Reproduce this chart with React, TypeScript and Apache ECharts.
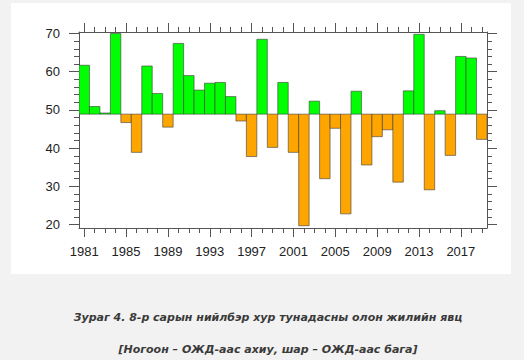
import React, { useEffect, useRef } from 'react';
import * as echarts from 'echarts';

// ---- data ----
const years = [
  1981, 1982, 1983, 1984, 1985, 1986, 1987, 1988, 1989, 1990,
  1991, 1992, 1993, 1994, 1995, 1996, 1997, 1998, 1999, 2000,
  2001, 2002, 2003, 2004, 2005, 2006, 2007, 2008, 2009, 2010,
  2011, 2012, 2013, 2014, 2015, 2016, 2017, 2018, 2019,
];
const rainfall = [
  61.7, 50.9, 49.2, 70.0, 46.7, 38.9, 61.5, 54.3, 45.5, 67.4,
  59.0, 55.2, 57.0, 57.2, 53.5, 47.1, 37.8, 68.5, 40.2, 57.2,
  38.9, 19.7, 52.3, 32.0, 45.2, 22.8, 54.9, 35.6, 43.0, 44.8,
  31.1, 55.0, 69.8, 29.1, 49.8, 38.1, 64.0, 63.6, 42.3,
];
const normal = 48.9; // long-term mean (ОЖД), bar baseline
const xTickLabels = [1981, 1985, 1989, 1993, 1997, 2001, 2005, 2009, 2013, 2017];
const yTickLabels = [20, 30, 40, 50, 60, 70];
const yMinorTicks = [22, 24, 26, 28, 32, 34, 36, 38, 42, 44, 46, 48, 52, 54, 56, 58, 62, 64, 66, 68];
const captionLine1 = 'Зураг 4. 8-р сарын нийлбэр хур тунадасны олон жилийн явц';
const captionLine2 = '[Ногоон – ОЖД-аас ахиу, шар – ОЖД-аас бага]';

const GREEN = '#00ff00';
const ORANGE = '#ffa500';
const AXIS = '#555555';
const X_MIN = 1980.5;
const X_MAX = 2019.5;
const Y_MIN = 19.1;
const Y_MAX = 70.4;

export default function App() {
  const ref = useRef<HTMLDivElement>(null);

  useEffect(() => {
    if (!ref.current) return;
    const chart = echarts.init(ref.current, null, { renderer: 'svg' });

    const xBase = (position: 'top' | 'bottom', major: boolean, labels: boolean) => ({
      type: 'value',
      position,
      min: X_MIN,
      max: X_MAX,
      axisLine: { show: major, lineStyle: { color: AXIS, width: 1 } },
      axisTick: {
        show: true,
        inside: false,
        length: major ? 9 : 5,
        customValues: major ? xTickLabels : years,
        lineStyle: { color: AXIS, width: 1 },
      },
      axisLabel: {
        show: labels,
        customValues: xTickLabels,
        margin: 17,
        color: '#222',
        fontFamily: 'Liberation Sans',
        fontSize: 13,
        formatter: (v: number) => String(v),
      },
      splitLine: { show: false },
    });

    const yBase = (position: 'left' | 'right', major: boolean, labels: boolean) => ({
      type: 'value',
      position,
      min: Y_MIN,
      max: Y_MAX,
      axisLine: { show: major, lineStyle: { color: AXIS, width: 1 } },
      axisTick: {
        show: true,
        inside: false,
        length: major ? 10 : 5,
        customValues: major ? yTickLabels : yMinorTicks,
        lineStyle: { color: AXIS, width: 1 },
      },
      axisLabel: {
        show: labels,
        customValues: yTickLabels,
        margin: 19,
        color: '#222',
        fontFamily: 'Liberation Sans',
        fontSize: 13,
      },
      splitLine: { show: false },
    });

    chart.setOption({
      animation: false,
      backgroundColor: '#f2f2f2',
      grid: { left: 79, right: 37, top: 32, bottom: 132, containLabel: false },
      xAxis: [
        xBase('bottom', true, true),
        xBase('bottom', false, false),
        xBase('top', true, false),
        xBase('top', false, false),
      ],
      yAxis: [
        yBase('left', true, true),
        yBase('left', false, false),
        yBase('right', true, false),
        yBase('right', false, false),
      ],
      graphic: [
        {
          type: 'rect',
          z: -10,
          shape: { x: 11, y: 3, width: 500, height: 271 },
          style: { fill: '#ffffff' },
          silent: true,
        },
        {
          type: 'text',
          x: 268,
          y: 317,
          style: {
            text: captionLine1,
            fill: '#3a3a3a',
            font: 'italic bold 11px "DejaVu Sans"',
            align: 'center',
            verticalAlign: 'middle',
          },
        },
        {
          type: 'text',
          x: 268,
          y: 349,
          style: {
            text: captionLine2,
            fill: '#3a3a3a',
            font: 'italic bold 11px "DejaVu Sans"',
            align: 'center',
            verticalAlign: 'middle',
          },
        },
      ],
      series: [
        {
          type: 'custom',
          xAxisIndex: 0,
          yAxisIndex: 0,
          clip: true,
          data: years.map((y, i) => [y, rainfall[i]]),
          renderItem: (params: any, api: any) => {
            const x = api.value(0) as number;
            const v = api.value(1) as number;
            const p1 = api.coord([x - 0.5, v]);
            const p2 = api.coord([x + 0.5, normal]);
            return {
              type: 'rect',
              shape: {
                x: p1[0],
                y: Math.min(p1[1], p2[1]),
                width: p2[0] - p1[0],
                height: Math.abs(p2[1] - p1[1]),
              },
              style: {
                fill: v >= normal ? GREEN : ORANGE,
                stroke: 'rgba(60,60,60,0.75)',
                lineWidth: 0.8,
              },
            };
          },
        },
      ],
    });

    return () => chart.dispose();
  }, []);

  return (
    <div
      ref={ref}
      style={{ position: 'fixed', left: 0, top: 0, width: 524, height: 360 }}
    />
  );
}
